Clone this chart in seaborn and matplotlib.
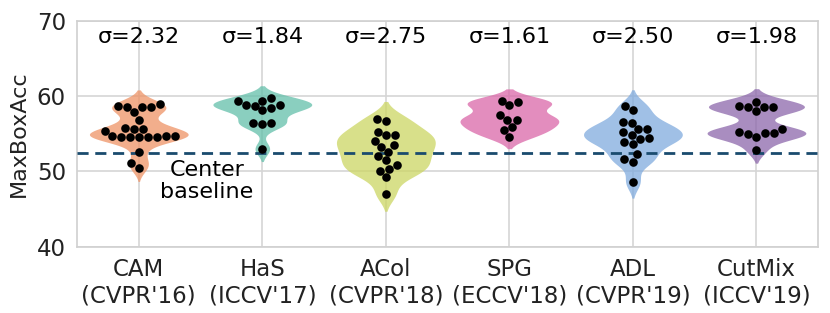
import numpy as np
import pandas as pd
import matplotlib
matplotlib.use("Agg")
import matplotlib.pyplot as plt
import seaborn as sns

methods = ["CAM\n(CVPR'16)", "HaS\n(ICCV'17)", "ACol\n(CVPR'18)",
           "SPG\n(ECCV'18)", "ADL\n(CVPR'19)", "CutMix\n(ICCV'19)"]
sigma_labels = ["σ=2.32", "σ=1.84", "σ=2.75", "σ=1.61", "σ=2.50", "σ=1.98"]

cam = [59.0, 58.7, 58.6, 58.6, 58.5, 57.9, 56.9, 55.8, 55.7, 55.6, 55.4,
       54.7, 54.7, 54.7, 54.6, 54.6, 54.6, 54.6, 54.6, 52.6, 51.1, 50.5]
has = [59.4, 59.4, 59.7, 58.4, 58.1, 58.8, 58.8, 58.7, 56.4, 56.3, 56.5, 53.0]
acol = [57.0, 56.7, 55.3, 54.9, 54.8, 54.1, 53.5, 53.3, 52.6, 52.1, 51.5,
        50.9, 50.3, 50.1, 49.2, 47.0]
spg = [59.4, 59.2, 58.8, 57.5, 56.9, 56.8, 55.9, 55.5, 54.6]
adl = [58.7, 58.2, 56.6, 56.4, 55.6, 55.6, 55.2, 54.8, 54.4, 54.3, 53.9,
       53.6, 52.3, 51.6, 51.3, 48.6]
cutmix = [59.2, 58.7, 58.6, 58.6, 58.5, 58.0, 55.6, 55.2, 55.1, 55.1, 55.0,
          54.6, 52.9]
center_baseline = 52.5

colors = ["#EE9366", "#63BFAA", "#CCD663", "#DA67A8", "#80ABDE", "#8C67AB"]

series = [cam, has, acol, spg, adl, cutmix]
df = pd.DataFrame({
    "method": np.concatenate([[m] * len(s) for m, s in zip(methods, series)]),
    "acc": np.concatenate(series),
})

sns.set_theme(style="whitegrid")
plt.rcParams["font.family"] = ["DejaVu Sans"]

fig = plt.figure(figsize=(8.3, 3.13), dpi=100)
ax = fig.add_axes([0.0928, 0.212, 0.893, 0.721])

sns.violinplot(data=df, x="method", y="acc", hue="method", order=methods,
               hue_order=methods, palette=colors, saturation=1, inner=None,
               linewidth=0, alpha=0.75, bw_adjust=0.72, legend=False, ax=ax,
               zorder=2)
ax.axhline(center_baseline, ls=(0, (4.0, 2.4)), color="#1A4B6E", lw=2.0, zorder=3)
sns.swarmplot(data=df, x="method", y="acc", order=methods, color="black",
              size=6.2, ax=ax, zorder=4)

for i, s in enumerate(sigma_labels):
    ax.text(i, 67.85, s, ha="center", va="center", fontsize=16, color="black")
ax.text(0.55, 48.7, "Center\nbaseline", ha="center", va="center", fontsize=16,
        linespacing=1.15, color="black")

ax.set_ylim(40, 70)
ax.set_xlim(-0.5, 5.5)
ax.set_yticks([40, 50, 60, 70])
ax.set_xlabel("")
ax.set_ylabel("MaxBoxAcc", fontsize=16, color="#222222", labelpad=6)
ax.tick_params(axis="both", labelsize=16.5, colors="#222222", pad=2)
ax.grid(True, color="#d5d5d5", lw=1.2)
for sp in ax.spines.values():
    sp.set_color("#d0d0d0")
    sp.set_linewidth(1.2)

fig.savefig("out.png", dpi=100)
